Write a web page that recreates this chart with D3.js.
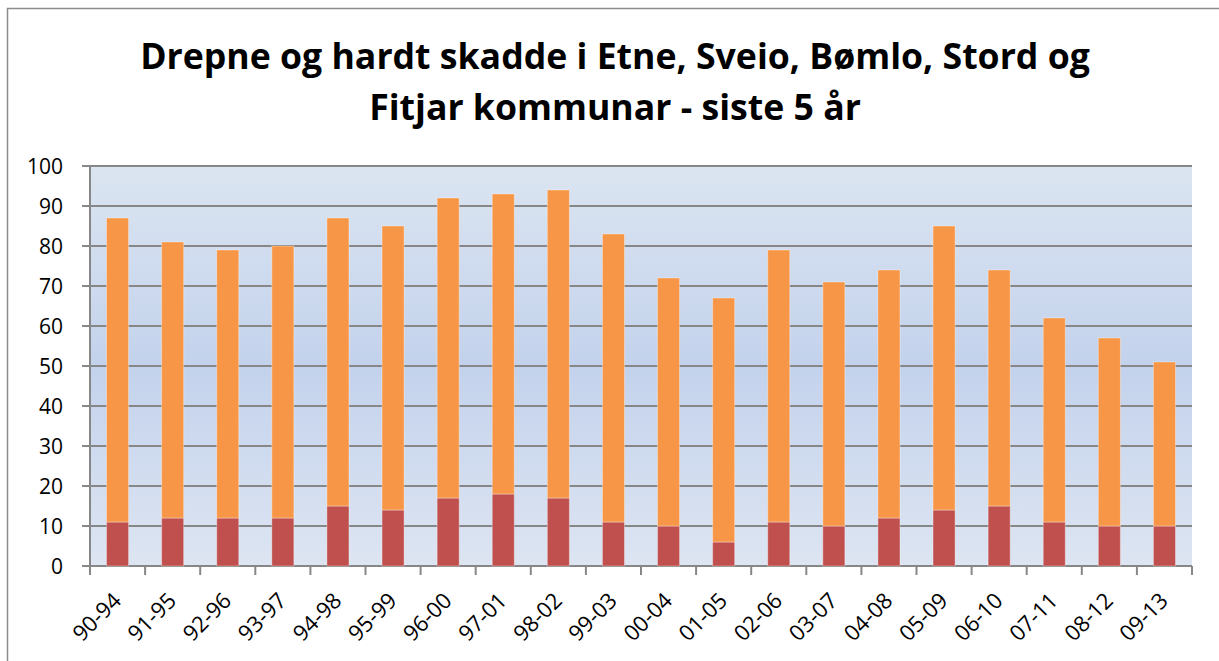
<!DOCTYPE html>
<html>
<head>
<meta charset="utf-8">
<script src="https://cdn.jsdelivr.net/npm/d3@7"></script>
<style>
  body { margin: 0; background: #fff; }
  svg { display: block; }
  .tick-label { font-family: "Open Sans", sans-serif; font-size: 21px; fill: #000; }
  .title { font-family: "Open Sans", sans-serif; font-weight: bold; fill: #000; }
</style>
</head>
<body>
<div id="chart"></div>
<script>
// periods (5-year windows)
var periods = ['90-94', '91-95', '92-96', '93-97', '94-98', '95-99', '96-00', '97-01', '98-02', '99-03',
               '00-04', '01-05', '02-06', '03-07', '04-08', '05-09', '06-10', '07-11', '08-12', '09-13'];
// lower (red) series
var drepne = [11, 12, 12, 12, 15, 14, 17, 18, 17, 11, 10, 6, 11, 10, 12, 14, 15, 11, 10, 10];
// upper (orange) series, stacked on top
var hardtSkadde = [76, 69, 67, 68, 72, 71, 75, 75, 77, 72, 62, 61, 68, 61, 62, 71, 59, 51, 47, 41];
var yTicks = [0, 10, 20, 30, 40, 50, 60, 70, 80, 90, 100];
var titleLines = ['Drepne og hardt skadde i Etne, Sveio, Bømlo, Stord og', 'Fitjar kommunar - siste 5 år'];

var width = 1219, height = 661;
var plot = { left: 90, right: 1192, top: 166, bottom: 566 };

var svg = d3.select('#chart').append('svg')
    .attr('width', width)
    .attr('height', height);

// chart frame
svg.append('rect')
    .attr('x', 7.5).attr('y', 8.5)
    .attr('width', width + 10).attr('height', height + 10)
    .attr('fill', '#fff')
    .attr('stroke', '#8c8c8c')
    .attr('stroke-width', 1.5);

// plot background gradient
var defs = svg.append('defs');
var grad = defs.append('linearGradient')
    .attr('id', 'bg')
    .attr('x1', 0).attr('y1', 0).attr('x2', 0).attr('y2', 1);
grad.append('stop').attr('offset', '0%').attr('stop-color', '#dbe5f1');
grad.append('stop').attr('offset', '50%').attr('stop-color', '#c3d2ec');
grad.append('stop').attr('offset', '100%').attr('stop-color', '#dde5f2');

var x = d3.scaleBand()
    .domain(periods)
    .range([plot.left, plot.right])
    .paddingInner(0.6)
    .paddingOuter(0.3);

var y = d3.scaleLinear()
    .domain([0, 100])
    .range([plot.bottom, plot.top]);

svg.append('rect')
    .attr('x', plot.left).attr('y', plot.top)
    .attr('width', plot.right - plot.left)
    .attr('height', plot.bottom - plot.top)
    .attr('fill', 'url(#bg)');

// gridlines
svg.append('g')
    .selectAll('line')
    .data(yTicks)
    .enter().append('line')
    .attr('x1', plot.left - 8).attr('x2', plot.right)
    .attr('y1', function(d) { return y(d); })
    .attr('y2', function(d) { return y(d); })
    .attr('stroke', '#878787')
    .attr('stroke-width', 2);

// y axis labels
svg.append('g')
    .selectAll('text')
    .data(yTicks)
    .enter().append('text')
    .classed('tick-label', true)
    .attr('x', 63)
    .attr('y', function(d) { return y(d); })
    .attr('dy', '0.36em')
    .attr('text-anchor', 'end')
    .text(function(d) { return d; });

// stacked bars
var rows = periods.map(function(p, i) {
    return { period: p, drepne: drepne[i], skadde: hardtSkadde[i] };
});
var stack = d3.stack().keys(['drepne', 'skadde'])(rows);
var colors = { drepne: '#c0504d', skadde: '#f79646' };

svg.append('g')
    .selectAll('g')
    .data(stack)
    .enter().append('g')
    .attr('fill', function(s) { return colors[s.key]; })
    .selectAll('rect')
    .data(function(s) { return s; })
    .enter().append('rect')
    .attr('x', function(d) { return x(d.data.period); })
    .attr('width', x.bandwidth())
    .attr('y', function(d) { return y(d[1]); })
    .attr('height', function(d) { return y(d[0]) - y(d[1]); })
    .attr('stroke', 'rgba(255,255,255,0.35)')
    .attr('stroke-width', 1);

// axis lines
svg.append('line')
    .attr('x1', plot.left).attr('x2', plot.left)
    .attr('y1', plot.top).attr('y2', plot.bottom)
    .attr('stroke', '#878787').attr('stroke-width', 2);

var boundaries = d3.range(periods.length + 1).map(function(i) {
    return plot.left + i * x.step();
});
svg.append('g')
    .selectAll('line')
    .data(boundaries)
    .enter().append('line')
    .attr('x1', function(d) { return d; }).attr('x2', function(d) { return d; })
    .attr('y1', plot.bottom).attr('y2', plot.bottom + 9)
    .attr('stroke', '#878787').attr('stroke-width', 2);

// x labels rotated
svg.append('g')
    .selectAll('text')
    .data(periods)
    .enter().append('text')
    .classed('tick-label', true)
    .style('font-size', '22px')
    .attr('text-anchor', 'end')
    .attr('transform', function(d) {
        return 'translate(' + (x(d) + x.bandwidth() / 2 + 5) + ',' + (plot.bottom + 36) + ') rotate(-45)';
    })
    .text(function(d) { return d; });

// title, fitted to the reference width
var title = svg.append('g');
var t1 = title.append('text')
    .classed('title', true)
    .attr('x', 615).attr('y', 69)
    .attr('text-anchor', 'middle')
    .style('font-size', '36px')
    .text(titleLines[0]);
var w = t1.node().getComputedTextLength();
var fs = 36 * 950 / w;
t1.style('font-size', fs + 'px');
title.append('text')
    .classed('title', true)
    .attr('x', 615).attr('y', 120)
    .attr('text-anchor', 'middle')
    .style('font-size', fs + 'px')
    .text(titleLines[1]);
</script>
</body>
</html>
